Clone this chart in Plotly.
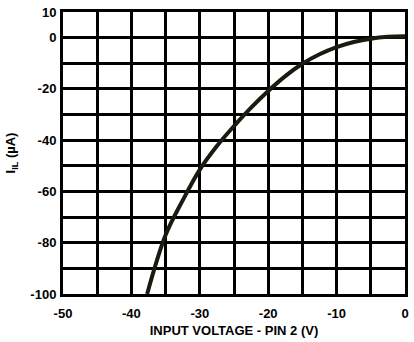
import plotly.graph_objects as go

voltage = [-37.7, -35, -32.5, -30, -27.5, -25, -22.5, -20, -17.5, -15, -12.5, -10, -7.5, -5, -2.5, 0]
current = [-100, -77, -63.5, -51.5, -42.3, -34.5, -27.3, -20.8, -15, -10.2, -6.5, -3.7, -1.7, -0.4, 0.3, 0.5]

xticks = [-50, -40, -30, -20, -10, 0]
yticks = [10, 0, -20, -40, -60, -80, -100]

font = dict(family="Liberation Sans, Arial", size=13, color="black")

fig = go.Figure()
fig.add_trace(go.Scatter(x=voltage, y=current, mode="lines",
                         line=dict(color="#1a1a10", width=4, shape="spline", smoothing=1),
                         showlegend=False, hoverinfo="skip"))

fig.update_layout(
    width=414, height=342,
    margin=dict(l=63, r=5, t=10, b=48),
    paper_bgcolor="white", plot_bgcolor="white",
    font=font,
)
grid = dict(showgrid=True, gridcolor="black", gridwidth=2.5)
fig.update_xaxes(range=[-50, 0],
                 tickvals=xticks, ticktext=[f"<b>{v}</b>" for v in xticks],
                 minor=dict(dtick=5, tick0=-50, ticks="", **grid),
                 ticklabelstandoff=5,
                 showline=True, linecolor="black", linewidth=3, mirror=True,
                 ticks="", zeroline=False, **grid,
                 title=dict(text="<b>INPUT VOLTAGE - PIN 2 (V)</b>", font=font, standoff=7))
fig.update_yaxes(range=[-100, 10],
                 tickvals=yticks, ticktext=[f"<b>{v}</b>" for v in yticks],
                 minor=dict(dtick=10, tick0=0, ticks="", **grid),
                 ticklabelstandoff=1,
                 showline=True, linecolor="black", linewidth=3, mirror=True,
                 ticks="", zeroline=False, **grid,
                 title=dict(text="<b>I<sub>IL</sub> (µA)</b>", font=font, standoff=12))

fig.write_html("out.html")
